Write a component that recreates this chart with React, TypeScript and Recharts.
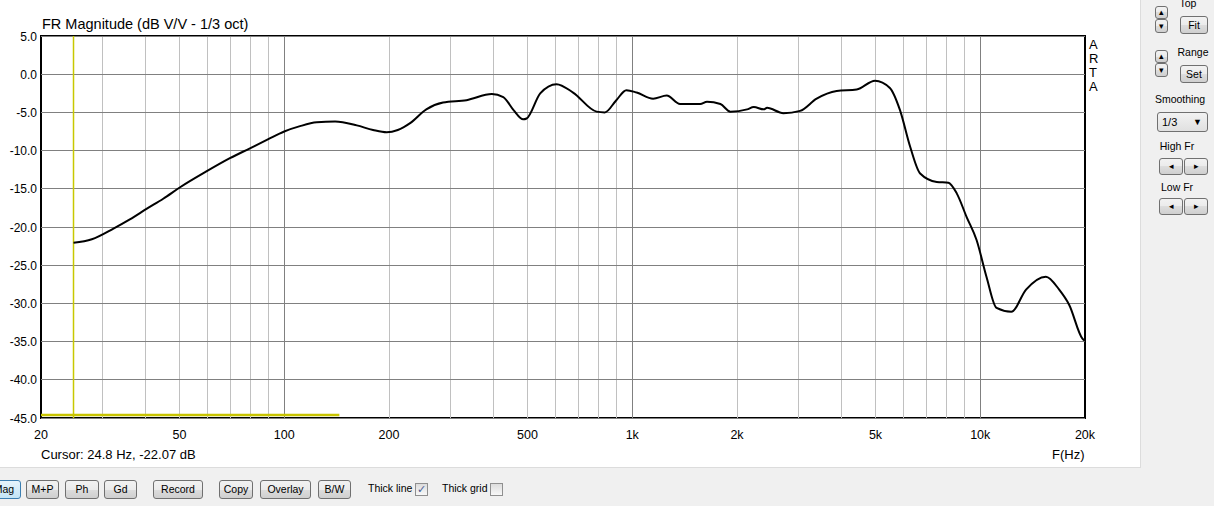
import React from "react";
import { LineChart, Line, XAxis, YAxis, ReferenceLine, ReferenceArea } from "recharts";

// frequency response (Hz / dB V/V, 1/3 oct smoothing)
const freqs = [
  24.8, 28, 32.3, 36, 40.3, 44.9, 50.2, 59.9, 69.8, 79.7, 90, 100, 111, 124, 140,
  161.6, 180, 197, 212, 230, 256, 286, 334, 395, 426, 456, 486, 497, 544, 606,
  676, 790, 834, 900, 962, 1030, 1148, 1256, 1372, 1568, 1640, 1792, 1914, 2138,
  2235, 2387, 2440, 2718, 3036, 3388, 3868, 4416, 4985, 5500, 5880, 6290, 6720,
  7500, 8100, 8560, 9140, 9760, 10420, 11140, 12280, 13540, 15440, 16860, 18020,
  19660, 20000,
];
const levels = [
  -22.07, -21.6, -20.2, -19.0, -17.6, -16.3, -14.8, -12.7, -11.0, -9.7, -8.5, -7.5,
  -6.8, -6.3, -6.2, -6.7, -7.3, -7.6, -7.3, -6.4, -4.6, -3.7, -3.4, -2.6, -3.0,
  -4.7, -5.9, -5.8, -2.5, -1.3, -2.4, -4.9, -5.0, -3.4, -2.1, -2.4, -3.2, -2.8,
  -3.9, -3.9, -3.6, -3.9, -4.9, -4.6, -4.3, -4.6, -4.4, -5.1, -4.8, -3.2, -2.2,
  -2.0, -0.85, -1.8, -4.7, -9.5, -13.0, -14.1, -14.2, -15.6, -18.7, -21.7, -26.5,
  -30.6, -31.1, -28.2, -26.5, -28.2, -30.2, -34.6, -34.9,
];

const xTicks = [20, 50, 100, 200, 500, 1000, 2000, 5000, 10000, 20000];
const xTickLabels = ["20", "50", "100", "200", "500", "1k", "2k", "5k", "10k", "20k"];
const minorGrid = [
  30, 40, 50, 60, 70, 80, 90, 200, 300, 400, 500, 600, 700, 800, 900,
  2000, 3000, 4000, 5000, 6000, 7000, 8000, 9000,
];
const majorGrid = [100, 1000, 10000];
const yTicks = [5, 0, -5, -10, -15, -20, -25, -30, -35, -40, -45];

const cursorFreq = 24.8;
const cursorDb = -22.07;
const markerEnd = 144;
const markerLevel = -44.6;

const data = freqs.map((f, i) => ({ f, db: levels[i] }));

const font = "'Liberation Sans', Arial, sans-serif";

function XTick(props: any) {
  const i = xTicks.indexOf(props.payload.value);
  return (
    <text x={props.x} y={439} textAnchor="middle" fontSize={12.5} fill="#000" fontFamily={font}>
      {xTickLabels[i]}
    </text>
  );
}

function YTick(props: any) {
  return (
    <text x={37} y={props.y + 4.5} textAnchor="end" fontSize={12} fill="#000" fontFamily={font}>
      {props.payload.value.toFixed(1)}
    </text>
  );
}

function Btn({ x, y, w, h, label, active, size = 10.5 }: any) {
  return (
    <div
      style={{
        position: "absolute",
        left: x,
        top: y,
        width: w,
        height: h,
        boxSizing: "border-box",
        border: active ? "1px solid #3c7fb1" : "1px solid #707070",
        borderRadius: 3,
        background: active
          ? "linear-gradient(#e5f4fc, #c4e5f6)"
          : "linear-gradient(#f2f2f2, #ebebeb 50%, #dddddd 50%, #cfcfcf)",
        fontSize: size,
        lineHeight: h - 2 + "px",
        textAlign: "center",
        color: "#000",
      }}
    >
      {label}
    </div>
  );
}

function Check({ x, y, checked }: any) {
  return (
    <div
      style={{
        position: "absolute",
        left: x,
        top: y,
        width: 13,
        height: 13,
        boxSizing: "border-box",
        border: "1px solid #8f8f8f",
        background: "linear-gradient(#dcdcdc, #f8f8f8)",
        fontSize: 11,
        lineHeight: "11px",
        textAlign: "center",
        color: "#4a5f97",
      }}
    >
      {checked ? "✓" : ""}
    </div>
  );
}

function Label({ x, y, children, size = 10.5, center }: any) {
  return (
    <div
      style={{
        position: "absolute",
        left: x,
        top: y,
        fontSize: size,
        whiteSpace: "nowrap",
        transform: center ? "translateX(-50%)" : undefined,
        color: "#000",
      }}
    >
      {children}
    </div>
  );
}

export default function App() {
  return (
    <div
      style={{
        position: "absolute",
        left: 0,
        top: 0,
        width: 1214,
        height: 506,
        background: "#f0f0f0",
        fontFamily: font,
        overflow: "hidden",
      }}
    >
      <div
        style={{
          position: "absolute",
          left: 0,
          top: 0,
          width: 1140,
          height: 467,
          background: "#fff",
          borderRight: "1px solid #dcdcdc",
          borderBottom: "1px solid #dcdcdc",
        }}
      />
      <div style={{ position: "absolute", left: 0, top: 0 }}>
        <LineChart
          width={1140}
          height={467}
          data={data}
          margin={{ top: 36, right: 55, bottom: 19, left: 0 }}
        >
          <XAxis
            dataKey="f"
            type="number"
            scale="log"
            domain={[20, 20000]}
            ticks={xTicks}
            allowDataOverflow
            tick={<XTick />}
            tickLine={false}
            axisLine={false}
            height={30}
          />
          <YAxis
            type="number"
            domain={[-45, 5]}
            ticks={yTicks}
            allowDataOverflow
            tick={<YTick />}
            tickLine={false}
            axisLine={false}
            width={41}
          />
          {minorGrid.map((f) => (
            <ReferenceLine key={"m" + f} x={f} stroke="#c0c0c0" strokeWidth={1} shapeRendering="crispEdges" />
          ))}
          {majorGrid.map((f) => (
            <ReferenceLine key={"M" + f} x={f} stroke="#808080" strokeWidth={1} shapeRendering="crispEdges" />
          ))}
          {yTicks.map((v) => (
            <ReferenceLine key={"h" + v} y={v} stroke="#808080" strokeWidth={1} shapeRendering="crispEdges" />
          ))}
          <ReferenceLine
            segment={[
              { x: cursorFreq, y: -45 },
              { x: cursorFreq, y: 5 },
            ]}
            stroke="#c8c800"
            strokeWidth={1.5}
          />
          <ReferenceLine
            segment={[
              { x: 20, y: markerLevel },
              { x: markerEnd, y: markerLevel },
            ]}
            stroke="#c8c400"
            strokeWidth={2.5}
          />
          <Line
            dataKey="db"
            type="monotone"
            stroke="#000"
            strokeWidth={2}
            dot={false}
            isAnimationActive={false}
          />
          <ReferenceArea
            x1={20}
            x2={20000}
            y1={-45}
            y2={5}
            fill="none"
            stroke="#000"
            strokeWidth={1.5}
            shapeRendering="crispEdges"
          />
        </LineChart>
      </div>

      <Label x={42} y={16} size={14.5}>FR Magnitude (dB V/V - 1/3 oct)</Label>
      <Label x={41} y={447} size={13}>
        Cursor: {cursorFreq} Hz, {cursorDb.toFixed(2)} dB
      </Label>
      <Label x={1052} y={447} size={13}>F(Hz)</Label>
      {["A", "R", "T", "A"].map((c, i) => (
        <Label key={i} x={1089} y={37 + i * 14} size={13}>
          {c}
        </Label>
      ))}

      {/* bottom toolbar */}
      <Btn x={-13} y={480} w={34} h={19} label="Mag" active />
      <Btn x={26} y={480} w={33} h={19} label="M+P" />
      <Btn x={65} y={480} w={34} h={19} label="Ph" />
      <Btn x={104} y={480} w={33} h={19} label="Gd" />
      <Btn x={153} y={480} w={50} h={19} label="Record" />
      <Btn x={219} y={480} w={34} h={19} label="Copy" />
      <Btn x={260} y={480} w={51} h={19} label="Overlay" />
      <Btn x={318} y={480} w={33} h={19} label="B/W" />
      <Label x={368} y={482}>Thick line</Label>
      <Check x={415} y={483} checked />
      <Label x={442} y={482}>Thick grid</Label>
      <Check x={490} y={483} />

      {/* right panel */}
      <Label x={1188} y={-3} center>Top</Label>
      <Btn x={1155} y={6} w={13} h={13} label="▴" size={9} />
      <Btn x={1155} y={19} w={13} h={14} label="▾" size={9} />
      <Btn x={1180} y={16} w={28} h={18} label="Fit" />
      <Label x={1193} y={46} center>Range</Label>
      <Btn x={1155} y={50} w={13} h={13} label="▴" size={9} />
      <Btn x={1155} y={63} w={13} h={14} label="▾" size={9} />
      <Btn x={1180} y={65} w={28} h={18} label="Set" />
      <Label x={1180} y={93} center>Smoothing</Label>
      <div
        style={{
          position: "absolute",
          left: 1157,
          top: 112,
          width: 51,
          height: 20,
          boxSizing: "border-box",
          border: "1px solid #707070",
          borderRadius: 3,
          background: "linear-gradient(#f2f2f2, #e0e0e0)",
          fontSize: 11,
          lineHeight: "18px",
          paddingLeft: 4,
        }}
      >
        1/3
        <span style={{ position: "absolute", right: 5, top: 0, fontSize: 9 }}>▼</span>
      </div>
      <Label x={1177} y={140} center>High Fr</Label>
      <Btn x={1159} y={158} w={24} h={17} label="◂" size={9} />
      <Btn x={1184} y={158} w={24} h={17} label="▸" size={9} />
      <Label x={1177} y={181} center>Low Fr</Label>
      <Btn x={1159} y={198} w={24} h={17} label="◂" size={9} />
      <Btn x={1184} y={198} w={24} h={17} label="▸" size={9} />
    </div>
  );
}
